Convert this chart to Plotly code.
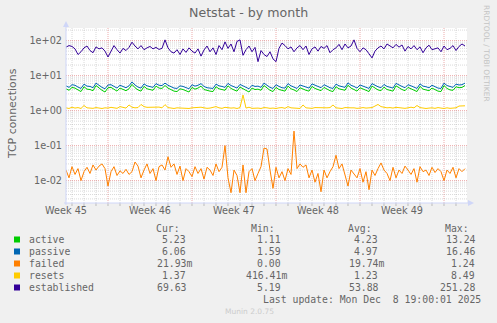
import math
import pandas as pd
import plotly.graph_objects as go

# ---- data: 6-hourly samples, starting mid-week 45 ----
start = "2025-11-06 12:00"
step = "6h"

active = [
    4.2, 3.8, 4.6, 4.4, 3.9, 3.5, 4.8, 4.1, 4.0, 3.7, 5.2, 4.3, 3.8, 3.4, 4.5, 4.6,
    4.1, 3.6, 4.4, 4.0, 3.7, 4.2, 5.6, 4.5, 3.9, 3.6, 4.9, 4.2, 4.0, 3.8, 5.0, 4.4,
    4.3, 5.2, 4.4, 3.9, 3.6, 3.5, 4.2, 4.0, 3.7, 3.4, 4.6, 4.1, 4.4, 5.0, 4.0, 3.7,
    3.6, 3.5, 4.8, 4.2, 4.0, 3.8, 5.1, 4.3, 3.9, 3.6, 4.7, 4.2, 3.6, 3.4, 4.4, 4.0,
    4.1, 3.8, 5.2, 4.4, 3.8, 3.5, 4.6, 4.0, 3.7, 3.6, 5.0, 4.2, 3.9, 3.5, 4.5, 4.1,
    3.8, 3.6, 4.9, 4.3, 4.0, 3.7, 4.6, 4.1, 3.7, 3.5, 4.8, 4.2, 3.9, 3.8, 5.3, 4.4,
    4.0, 3.6, 4.5, 4.1, 3.7, 3.5, 5.0, 4.3, 3.9, 3.7, 4.7, 4.0, 3.8, 3.6, 5.1, 4.4,
    4.0, 3.7, 4.6, 4.2, 3.8, 3.5, 4.9, 4.1, 3.9, 3.7, 4.4, 4.0, 3.6, 3.5, 5.2, 4.3,
    3.9, 3.8, 4.8, 4.5, 4.6, 5.2,
]
passive = [
    5.1, 4.6, 5.5, 5.3, 4.7, 4.3, 5.7, 5.0, 4.9, 4.5, 6.1, 5.2, 4.6, 4.2, 5.4, 5.5,
    5.0, 4.4, 5.3, 4.9, 4.5, 5.1, 6.6, 5.4, 4.7, 4.4, 5.8, 5.1, 4.9, 4.6, 5.9, 5.3,
    5.2, 6.1, 5.3, 4.8, 4.4, 4.3, 5.1, 4.9, 4.5, 4.2, 5.5, 5.0, 5.3, 5.9, 4.9, 4.5,
    4.4, 4.3, 5.7, 5.1, 4.9, 4.6, 6.0, 5.2, 4.8, 4.4, 5.6, 5.1, 4.4, 4.2, 5.3, 4.9,
    5.0, 4.6, 6.1, 5.3, 4.6, 4.3, 5.5, 4.9, 4.5, 4.4, 5.9, 5.1, 4.8, 4.3, 5.4, 5.0,
    4.6, 4.4, 5.8, 5.2, 4.9, 4.5, 5.5, 5.0, 4.5, 4.3, 5.7, 5.1, 4.8, 4.6, 6.2, 5.3,
    4.9, 4.4, 5.4, 5.0, 4.5, 4.3, 5.9, 5.2, 4.8, 4.5, 5.6, 4.9, 4.6, 4.4, 6.0, 5.3,
    4.9, 4.5, 5.5, 5.1, 4.6, 4.3, 5.8, 5.0, 4.8, 4.5, 5.3, 4.9, 4.4, 4.3, 6.1, 5.2,
    4.8, 4.6, 5.7, 5.4, 5.5, 6.1,
]
failed = [
    0.020, 0.012, 0.025, 0.015, 0.022, 0.010, 0.018, 0.024, 0.016, 0.028, 0.020, 0.026,
    0.030, 0.022, 0.007, 0.018, 0.025, 0.014, 0.019, 0.016, 0.021, 0.015, 0.018, 0.034,
    0.026, 0.012, 0.020, 0.030, 0.016, 0.022, 0.010, 0.025, 0.028, 0.020, 0.048, 0.024,
    0.030, 0.015, 0.026, 0.010, 0.022, 0.018, 0.013, 0.025, 0.016, 0.022, 0.011, 0.024,
    0.020, 0.014, 0.030, 0.018, 0.024, 0.100, 0.012, 0.0045, 0.020, 0.014, 0.0045, 0.028,
    0.0045, 0.018, 0.022, 0.010, 0.016, 0.025, 0.085, 0.080, 0.020, 0.006, 0.024, 0.012,
    0.018, 0.010, 0.022, 0.015, 0.260, 0.022, 0.030, 0.024, 0.028, 0.012, 0.020, 0.009,
    0.016, 0.0048, 0.020, 0.012, 0.018, 0.025, 0.053, 0.022, 0.030, 0.014, 0.007, 0.020,
    0.016, 0.012, 0.022, 0.009, 0.018, 0.0055, 0.020, 0.014, 0.022, 0.032, 0.020, 0.016,
    0.010, 0.024, 0.012, 0.020, 0.016, 0.026, 0.020, 0.015, 0.022, 0.009, 0.025, 0.018,
    0.020, 0.014, 0.024, 0.017, 0.022, 0.018, 0.010, 0.020, 0.016, 0.024, 0.012, 0.022,
    0.018, 0.022,
]
resets = [
    1.20, 1.15, 1.25, 1.18, 1.22, 1.15, 1.40, 1.20, 1.18, 1.16, 1.22, 1.20,
    1.15, 1.20, 1.18, 1.24, 1.20, 1.16, 1.30, 1.22, 1.18, 1.45, 1.25, 1.20,
    1.22, 1.50, 1.30, 1.24, 1.25, 1.20, 1.22, 1.26, 1.20, 1.48, 1.22, 1.18,
    1.15, 1.20, 1.18, 1.16, 1.18, 1.15, 1.20, 1.22, 1.18, 1.25, 1.20, 1.16,
    1.18, 1.22, 1.30, 1.20, 1.16, 1.24, 1.20, 1.18, 1.20, 1.15, 1.22, 2.80,
    1.18, 1.25, 1.16, 1.20, 1.18, 1.15, 1.22, 1.20, 1.16, 1.18, 1.15, 1.20,
    1.22, 1.16, 1.30, 1.20, 1.18, 1.20, 1.15, 1.45, 1.20, 1.18, 1.16, 1.22,
    1.20, 1.24, 1.18, 1.20, 1.22, 1.45, 1.20, 1.18, 1.15, 1.22, 1.18, 1.20,
    1.20, 1.16, 1.18, 1.22, 1.18, 1.20, 1.22, 1.35, 1.50, 1.30, 1.25, 1.20,
    1.22, 1.18, 1.24, 1.20, 1.18, 1.16, 1.20, 1.25, 1.20, 1.40, 1.22, 1.18,
    1.15, 1.18, 1.20, 1.16, 1.22, 1.18, 1.15, 1.20, 1.16, 1.18, 1.20, 1.35,
    1.38, 1.37,
]
established = [
    65, 72, 68, 58, 40, 48, 62, 70, 52, 45, 66, 58, 62, 50, 34, 48,
    72, 55, 44, 60, 52, 64, 90, 70, 58, 72, 55, 62, 68, 58, 64, 56,
    60, 105, 62, 48, 44, 55, 40, 58, 46, 62, 50, 44, 58, 36, 54, 70,
    48, 62, 40, 72, 55, 92, 60, 80, 48, 95, 105, 38, 55, 70, 48, 64,
    25, 52, 40, 35, 48, 30, 25, 60, 85, 72, 58, 66, 48, 62, 72, 55,
    70, 40, 58, 66, 50, 68, 60, 72, 45, 55, 62, 78, 55, 80, 62, 70,
    105, 60, 48, 62, 55, 42, 32, 50, 62, 70, 58, 80, 72, 62, 78, 65,
    75, 50, 68, 58, 72, 55, 66, 45, 62, 74, 55, 58, 62, 48, 70, 55,
    60, 72, 52, 68, 80, 70,
]

series_names = ["active", "passive", "failed", "resets", "established"]
series_colors = ["#00CC00", "#0066B3", "#FF8000", "#FFCC00", "#330099"]
series_values = [active, passive, failed, resets, established]

cur_vals = ["5.23", "6.06", "21.93m", "1.37", "69.63"]
min_vals = ["1.11", "1.59", "0.00", "416.41m", "5.19"]
avg_vals = ["4.23", "4.97", "19.74m", "1.23", "53.88"]
max_vals = ["13.24", "16.46", "1.24", "8.49", "251.28"]

week_labels = ["Week 45", "Week 46", "Week 47", "Week 48", "Week 49"]
week_label_dates = ["2025-11-06 12:00", "2025-11-13 12:00", "2025-11-20 12:00",
                    "2025-11-27 12:00", "2025-12-04 12:00"]
y_tick_vals = [0.01, 0.1, 1, 10, 100]
y_tick_text = ["1e-02", "1e-01", "1e+00", "1e+01", "1e+02"]
last_update = "Last update: Mon Dec\u00a0\u00a08 19:00:01 2025"

# ---- geometry (pixels) ----
W, H = 497, 323
PL, PR, PT, PB = 66, 467, 28, 203
x_start = pd.Timestamp(start)
x_end = x_start + pd.Timedelta(days=(PR - PL) / 12.0)
Y_LO, Y_HI = -2.64, 2.36

FONT = "DejaVu Sans"
MONO = "DejaVu Sans Mono"
FG = "#666666"
AXIS = "#CFD6F8"
GRID_MINOR = "rgba(140,140,140,0.32)"
GRID_MAJOR = "rgba(220,90,90,0.5)"
GRID_DASH = "1px,1px"


def px(x):
    return (x - PL) / (PR - PL)


def py(y):
    return (PB - y) / (PB - PT)


def ylog(v):
    return (math.log10(v) - Y_LO) / (Y_HI - Y_LO)


times = pd.date_range(start, periods=len(established), freq=step)

fig = go.Figure()
for name, color, vals in zip(series_names, series_colors, series_values):
    fig.add_trace(go.Scatter(x=times, y=vals, mode="lines", name=name,
                             line=dict(color=color, width=1)))

shapes = []
# vertical grid: one line per day, week boundaries (Mondays) in red
day = x_start.normalize() + pd.Timedelta(days=1)
while day < x_end:
    major = day.weekday() == 0
    shapes.append(dict(type="line", xref="x", yref="paper", x0=day, x1=day, y0=0, y1=1,
                       layer="below",
                       line=dict(color=GRID_MAJOR if major else GRID_MINOR, width=1, dash=GRID_DASH)))
    # small tick below the time axis
    shapes.append(dict(type="line", xref="x", yref="paper", x0=day, x1=day,
                       y0=py(PB), y1=py(PB + 3), line=dict(color="#BBBBBB", width=1)))
    day += pd.Timedelta(days=1)

# horizontal grid: log decades in red, intermediate digits in gray
for e in range(-3, 3):
    for d in range(1, 10):
        v = d * 10 ** e
        p = ylog(v)
        if 0 < p < 1:
            shapes.append(dict(type="line", xref="paper", yref="paper", x0=0, x1=1, y0=p, y1=p,
                               layer="below",
                               line=dict(color=GRID_MAJOR if d == 1 else GRID_MINOR,
                                         width=1, dash=GRID_DASH)))

# axes with arrow heads
shapes.append(dict(type="line", xref="paper", yref="paper", x0=px(66), x1=px(66), y0=py(PB + 2), y1=py(23),
                   line=dict(color=AXIS, width=1)))
shapes.append(dict(type="line", xref="paper", yref="paper", x0=px(PL - 2), x1=px(470), y0=py(PB), y1=py(PB),
                   line=dict(color=AXIS, width=1)))
shapes.append(dict(type="path", xref="paper", yref="paper",
                   path=f"M {px(63)} {py(27)} L {px(69)} {py(27)} L {px(66)} {py(21)} Z",
                   fillcolor=AXIS, line=dict(width=0)))
shapes.append(dict(type="path", xref="paper", yref="paper",
                   path=f"M {px(468)} {py(200)} L {px(468)} {py(206)} L {px(474)} {py(203)} Z",
                   fillcolor=AXIS, line=dict(width=0)))

annotations = []


def text(x, y, s, size, color=FG, family=FONT, xanchor="center", angle=0):
    annotations.append(dict(x=px(x), y=py(y), xref="paper", yref="paper", text=s,
                            showarrow=False, xanchor=xanchor, yanchor="middle",
                            textangle=angle, font=dict(family=family, size=size, color=color)))


text(248, 12, "Netstat - by month", 12.6)
text(12, 114, "TCP connections", 10.9, angle=-90)
text(487, 53, "RRDTOOL / TOBI OETIKER", 7.5, color="#C4C4C4", angle=90)
text(249, 311, "Munin 2.0.75", 7.5, color="#CCCCCC")

# legend block
row_y = [239.5, 251.5, 263.5, 275.5, 287.5]
col_end = [193.8, 289.4, 386.0, 482.6]
for head, xe in zip(["Cur:", "Min:", "Avg:", "Max:"], col_end):
    text(xe - 12, 228, head, 9.8, family=MONO, xanchor="right")
for i, (name, color) in enumerate(zip(series_names, series_colors)):
    y = row_y[i]
    shapes.append(dict(type="rect", xref="paper", yref="paper", x0=px(14), x1=px(20),
                       y0=py(y + 3), y1=py(y - 3), fillcolor=color, line=dict(width=0)))
    text(26.5, y, name, 9.8, family=MONO, xanchor="left")
    for col, xe in zip([cur_vals, min_vals, avg_vals, max_vals], col_end):
        v = col[i]
        if not v.endswith("m"):
            v += "\u00a0"
        text(xe, y, v, 9.8, family=MONO, xanchor="right")
text(482.6, 299.3, last_update, 9.8, family=MONO, xanchor="right")

fig.update_layout(
    width=W, height=H, autosize=False,
    margin=dict(l=PL, r=W - PR, t=PT, b=H - PB, pad=0),
    paper_bgcolor="#F0F0F0", plot_bgcolor="#FFFFFF",
    showlegend=False,
    shapes=shapes, annotations=annotations,
    xaxis=dict(type="date", range=[x_start, x_end], showgrid=False, zeroline=False, showline=False,
               tickmode="array", tickvals=week_label_dates, ticktext=week_labels,
               ticks="", tickfont=dict(family=FONT, size=9.7, color=FG)),
    yaxis=dict(type="log", range=[Y_LO, Y_HI], showgrid=False, zeroline=False, showline=False,
               tickmode="array", tickvals=y_tick_vals, ticktext=y_tick_text,
               ticks="", ticklabelstandoff=3, tickfont=dict(family=FONT, size=9.7, color=FG)),
)

fig.write_html("out.html")
